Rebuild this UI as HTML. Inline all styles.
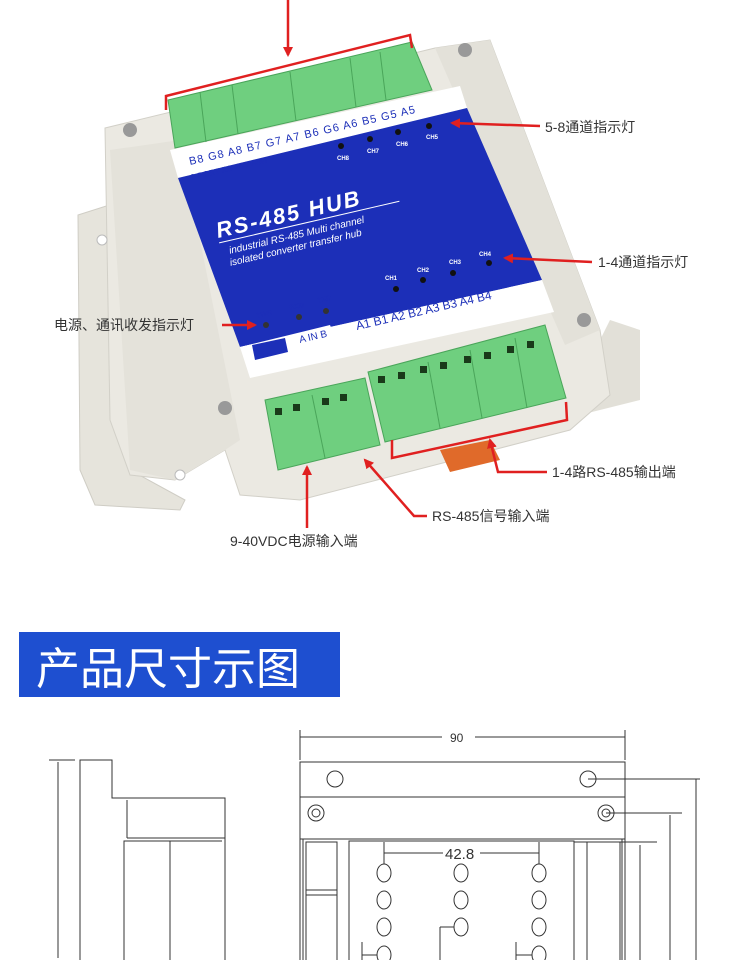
<!DOCTYPE html>
<html><head><meta charset="utf-8"><style>
html,body{margin:0;padding:0;background:#fff}
svg{display:block}
text{font-family:"Liberation Sans","Noto Sans CJK SC",sans-serif}
</style></head><body>
<svg width="750" height="960" viewBox="0 0 750 960" xmlns="http://www.w3.org/2000/svg">
<defs>
<marker id="ah" markerWidth="10" markerHeight="10" refX="8" refY="5" orient="auto" markerUnits="userSpaceOnUse"><path d="M0,0 L10,5 L0,10 z" fill="#e02020"/></marker>
</defs>
<!-- DIN base -->
<polygon points="78,215 125,200 130,470 185,500 180,510 95,505 80,470" fill="#e6e4dc" stroke="#cfcdc5"/>
<polygon points="560,420 640,400 640,330 610,320" fill="#e2e0d8"/>
<!-- main body -->
<polygon points="105,128 435,48 490,40 600,330 610,395 570,430 300,500 240,495 225,450 175,480 130,475 110,420" fill="#ebe9e2" stroke="#d2d0c8"/>
<polygon points="435,48 490,40 600,330 565,345" fill="#e3e1d9"/>
<polygon points="110,150 180,140 240,440 225,450 175,480 130,470" fill="#e4e2da"/>
<circle cx="130" cy="130" r="7" fill="#999"/><circle cx="465" cy="50" r="7" fill="#999"/>
<circle cx="225" cy="408" r="7" fill="#999"/><circle cx="584" cy="320" r="7" fill="#999"/>
<circle cx="102" cy="240" r="5" fill="#fff" stroke="#bbb"/><circle cx="180" cy="475" r="5" fill="#fff" stroke="#bbb"/>
<!-- orange clip -->
<polygon points="440,450 490,440 500,460 450,472" fill="#e06a2a"/>
<!-- top terminals -->
<polygon points="168,100 412,42 432,90 175,148" fill="#6fcf7f" stroke="#4aa55a"/>
<g stroke="#4aa55a"><line x1="200" y1="92" x2="206" y2="142"/><line x1="232" y1="85" x2="238" y2="134"/><line x1="290" y1="72" x2="296" y2="121"/><line x1="350" y1="58" x2="356" y2="107"/><line x1="380" y1="52" x2="386" y2="100"/></g>
<!-- label strips -->
<polygon points="170,150 460,86 467,108 178,178" fill="#fff"/>
<polygon points="178,178 467,108 542,280 240,347" fill="#1c2fb8"/>
<polygon points="240,347 542,280 554,312 250,378" fill="#fff"/>
<polygon points="240,347 330,325 338,345 248,366" fill="#fff"/>
<g transform="translate(190,165) rotate(-13)" font-size="11" fill="#1c2fb8">
<text x="0" y="0" letter-spacing="1">B8 G8 A8 B7 G7 A7 B6 G6 A6 B5 G5 A5</text>
<text x="-2" y="15" font-size="8" font-weight="bold" fill="#1c2fb8">8-PORT RS-485 HUB</text>
</g>
<g transform="translate(218,238) rotate(-13)" fill="#fff">
<text x="0" y="0" font-size="22" font-weight="bold" font-style="italic" letter-spacing="2">RS-485 HUB</text>
<line x1="0" y1="5" x2="185" y2="5" stroke="#fff"/>
<text x="8" y="18" font-size="10" font-style="italic">industrial RS-485 Multi channel</text>
<text x="6" y="30" font-size="10" font-style="italic">isolated converter transfer hub</text>
</g>
<g font-size="6" font-weight="bold" fill="#fff">
<text x="337" y="160">CH8</text><text x="367" y="153">CH7</text><text x="396" y="146">CH6</text><text x="426" y="139">CH5</text>
<text x="385" y="280">CH1</text><text x="417" y="272">CH2</text><text x="449" y="264">CH3</text><text x="479" y="256">CH4</text>
</g>
<g fill="#111"><circle cx="341" cy="146" r="3"/><circle cx="370" cy="139" r="3"/><circle cx="398" cy="132" r="3"/><circle cx="429" cy="126" r="3"/>
<circle cx="396" cy="289" r="3"/><circle cx="423" cy="280" r="3"/><circle cx="453" cy="273" r="3"/><circle cx="489" cy="263" r="3"/></g>
<g font-size="7" font-weight="bold" fill="#1c2fb8"><text x="257" y="318" transform="rotate(-13 257 318)">TWR</text><text x="290" y="310" transform="rotate(-13 290 310)">RXD</text><text x="318" y="303" transform="rotate(-13 318 303)">TXD</text></g>
<g fill="#333"><circle cx="266" cy="325" r="3"/><circle cx="299" cy="317" r="3"/><circle cx="326" cy="311" r="3"/></g>
<text x="357" y="330" font-size="12" fill="#1c2fb8" transform="rotate(-13 357 330)">A1 B1 A2 B2 A3 B3 A4 B4</text>
<text x="300" y="343" font-size="10" fill="#1c2fb8" transform="rotate(-13 300 343)">A IN B</text>
<polygon points="252,345 285,338 288,352 255,360" fill="#1c2fb8"/>
<!-- bottom terminals -->
<polygon points="265,400 365,378 380,445 278,470" fill="#6fcf7f" stroke="#4aa55a"/>
<polygon points="368,372 545,325 566,398 385,442" fill="#6fcf7f" stroke="#4aa55a"/>
<g fill="#1a3a1a"><rect x="275" y="408" width="7" height="7"/><rect x="293" y="404" width="7" height="7"/><rect x="322" y="398" width="7" height="7"/><rect x="340" y="394" width="7" height="7"/>
<rect x="378" y="376" width="7" height="7"/><rect x="398" y="372" width="7" height="7"/><rect x="420" y="366" width="7" height="7"/><rect x="440" y="362" width="7" height="7"/><rect x="464" y="356" width="7" height="7"/><rect x="484" y="352" width="7" height="7"/><rect x="507" y="346" width="7" height="7"/><rect x="527" y="341" width="7" height="7"/></g>
<g stroke="#4aa55a" fill="none"><line x1="312" y1="395" x2="325" y2="458"/><line x1="428" y1="362" x2="440" y2="428"/><line x1="470" y1="350" x2="482" y2="418"/><line x1="515" y1="338" x2="527" y2="408"/></g>
<!-- red annotations -->
<g stroke="#e02020" stroke-width="2.5" fill="none">
<line x1="288" y1="0" x2="288" y2="55" marker-end="url(#ah)"/>
<polyline points="166,110 166,96 410,35 412,48"/>
<line x1="540" y1="126" x2="452" y2="123" marker-end="url(#ah)"/>
<line x1="592" y1="262" x2="505" y2="258" marker-end="url(#ah)"/>
<line x1="222" y1="325" x2="255" y2="325" marker-end="url(#ah)"/>
<polyline points="392,440 392,458 567,420 566,402"/>
<polyline points="547,472 498,472 490,440" marker-end="url(#ah)"/>
<polyline points="427,516 414,516 365,460" marker-end="url(#ah)"/>
<line x1="307" y1="528" x2="307" y2="467" marker-end="url(#ah)"/>
</g>
<g font-size="14" fill="#333">
<text x="545" y="132">5-8通道指示灯</text>
<text x="598" y="267">1-4通道指示灯</text>
<text x="54" y="330">电源、通讯收发指示灯</text>
<text x="552" y="477">1-4路RS-485输出端</text>
<text x="432" y="521">RS-485信号输入端</text>
<text x="230" y="546">9-40VDC电源输入端</text>
</g>
<!-- banner -->
<rect x="19" y="632" width="321" height="65" fill="#1e4fd0"/>
<text x="36" y="684" font-size="44" fill="#fff">产品尺寸示图</text>
<!-- drawing: side view -->
<g stroke="#333" fill="none" stroke-width="1">
<line x1="49" y1="760" x2="75" y2="760"/><line x1="58" y1="762" x2="58" y2="958"/>
<polyline points="80,960 80,760 112,760 112,798 225,798 225,960"/>
<line x1="127" y1="800" x2="127" y2="838"/><line x1="127" y1="838" x2="225" y2="838"/>
<polyline points="124,960 124,841 222,841"/><line x1="170" y1="841" x2="170" y2="960"/>
<line x1="300" y1="730" x2="300" y2="760"/><line x1="625" y1="730" x2="625" y2="760"/>
<line x1="300" y1="737" x2="442" y2="737"/><line x1="475" y1="737" x2="625" y2="737"/>
<rect x="300" y="762" width="325" height="35"/>
<rect x="300" y="797" width="325" height="42"/>
<line x1="300" y1="839" x2="300" y2="960"/><line x1="303" y1="839" x2="303" y2="960"/>
<rect x="306" y="842" width="31" height="130"/>
<line x1="625" y1="839" x2="625" y2="960"/><line x1="622" y1="839" x2="622" y2="960"/>
<rect x="587" y="842" width="33" height="130"/>
<rect x="349" y="841" width="225" height="130"/>
<circle cx="335" cy="779" r="8"/><circle cx="588" cy="779" r="8"/>
<circle cx="316" cy="813" r="8"/><circle cx="316" cy="813" r="4"/>
<circle cx="606" cy="813" r="8"/><circle cx="606" cy="813" r="4"/>
<line x1="588" y1="779" x2="700" y2="779"/><line x1="696" y1="779" x2="696" y2="960"/>
<line x1="606" y1="813" x2="682" y2="813"/><line x1="670" y1="815" x2="670" y2="960"/>
<line x1="574" y1="842" x2="657" y2="842"/><line x1="640" y1="845" x2="640" y2="960"/>
<line x1="384" y1="842" x2="384" y2="866"/><line x1="539" y1="842" x2="539" y2="866"/>
<line x1="384" y1="853" x2="443" y2="853"/><line x1="480" y1="853" x2="539" y2="853"/>
<line x1="306" y1="890" x2="337" y2="890"/><line x1="306" y1="895" x2="337" y2="895"/>
<line x1="440" y1="927" x2="455" y2="927"/><line x1="440" y1="927" x2="440" y2="960"/>
<line x1="362" y1="955" x2="377" y2="955"/><line x1="516" y1="955" x2="532" y2="955"/>
<line x1="362" y1="942" x2="362" y2="960"/><line x1="516" y1="942" x2="516" y2="960"/>
</g>
<g stroke="#333" fill="#fff">
<ellipse cx="384" cy="873" rx="7" ry="9"/><ellipse cx="461" cy="873" rx="7" ry="9"/><ellipse cx="539" cy="873" rx="7" ry="9"/>
<ellipse cx="384" cy="900" rx="7" ry="9"/><ellipse cx="461" cy="900" rx="7" ry="9"/><ellipse cx="539" cy="900" rx="7" ry="9"/>
<ellipse cx="384" cy="927" rx="7" ry="9"/><ellipse cx="461" cy="927" rx="7" ry="9"/><ellipse cx="539" cy="927" rx="7" ry="9"/>
<ellipse cx="384" cy="955" rx="7" ry="9"/><ellipse cx="539" cy="955" rx="7" ry="9"/>
</g>
<text x="450" y="742" font-size="12" fill="#333">90</text>
<text x="445" y="859" font-size="15" fill="#333">42.8</text>
</svg>
</body></html>
